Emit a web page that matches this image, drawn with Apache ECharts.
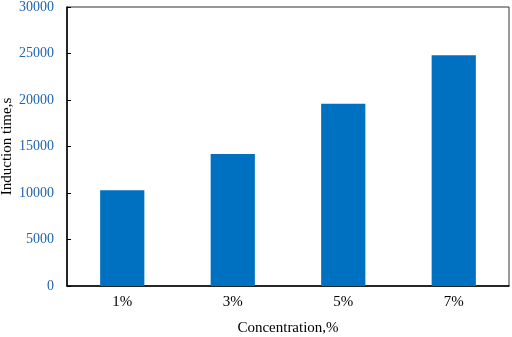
<!DOCTYPE html>
<html>
<head>
<meta charset="utf-8" />
<title>Induction time</title>
<style>
  html, body { margin: 0; padding: 0; background: #fff; }
  #chart { width: 512px; height: 337px; }
</style>
</head>
<body>
<div id="chart"></div>
<script src="https://cdn.jsdelivr.net/npm/echarts@6/dist/echarts.min.js"></script>
<script>
  const categories = ['1%', '3%', '5%', '7%'];
  const inductionTime = [10300, 14200, 19600, 24800];
  const yTicks = { min: 0, max: 30000, interval: 5000 };

  const serif = '"Liberation Serif", "DejaVu Serif", serif';
  const chart = echarts.init(document.getElementById('chart'));
  chart.setOption({
    animation: false,
    grid: {
      left: 67, right: 3, top: 7, bottom: 51,
      outerBoundsMode: 'none',
      containLabel: false,
      show: true, borderColor: '#333', borderWidth: 1
    },
    xAxis: {
      type: 'category',
      data: categories,
      name: 'Concentration,%',
      nameLocation: 'middle',
      nameGap: 35,
      nameMoveOverlap: false,
      nameTextStyle: { fontFamily: serif, fontSize: 15, color: '#000' },
      axisLine: { lineStyle: { color: '#000', width: 1.5 } },
      axisTick: { show: false },
      axisLabel: { fontFamily: serif, fontSize: 15, color: '#000', margin: 9 }
    },
    yAxis: {
      type: 'value',
      min: yTicks.min, max: yTicks.max, interval: yTicks.interval,
      name: 'Induction time,s',
      nameLocation: 'middle',
      nameGap: 52,
      nameMoveOverlap: false,
      nameTextStyle: { fontFamily: serif, fontSize: 15, color: '#000' },
      axisLine: { show: true, lineStyle: { color: '#000', width: 1.5 } },
      axisTick: { show: true, inside: true, length: 4, lineStyle: { color: '#000' } },
      axisLabel: {
        fontFamily: serif, fontSize: 14, color: '#1f64b0', margin: 13,
        formatter: v => String(v)
      },
      splitLine: { show: false }
    },
    series: [{
      type: 'bar',
      data: inductionTime,
      barWidth: '40%',
      itemStyle: { color: '#0070c0' }
    }]
  });
</script>
</body>
</html>
